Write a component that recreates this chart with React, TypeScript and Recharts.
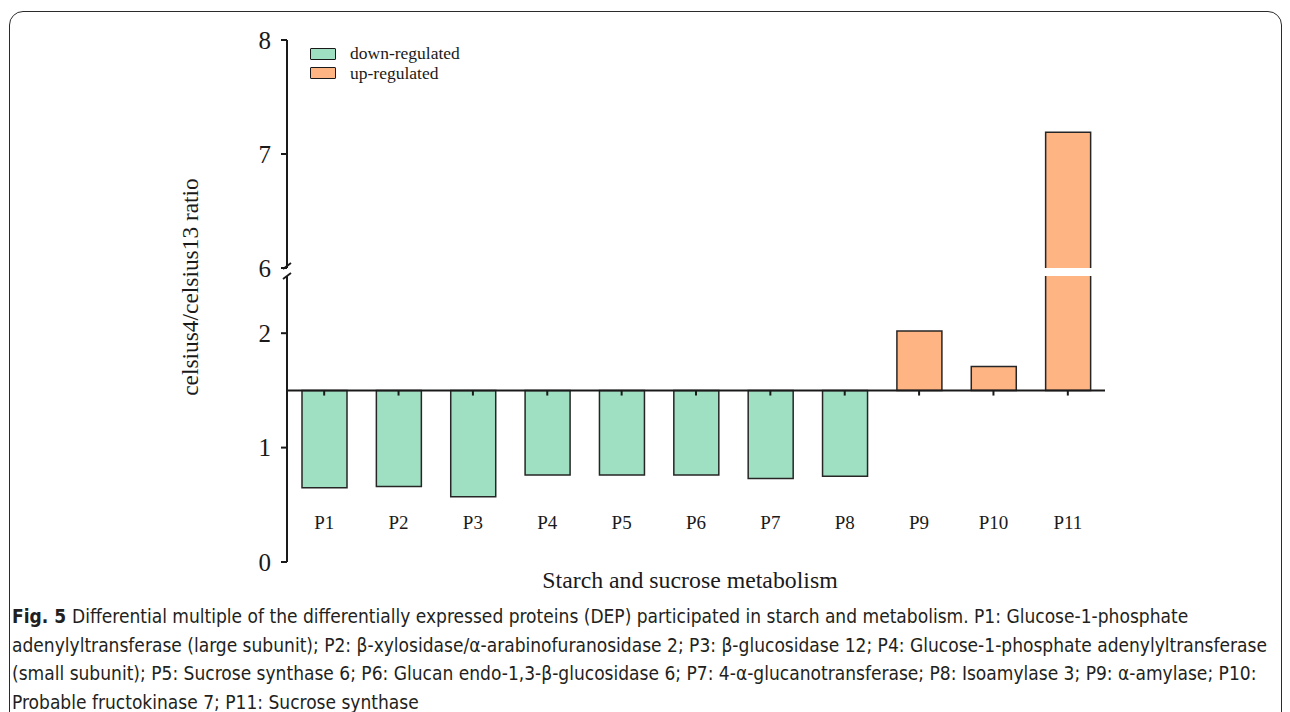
import React from "react";
import { BarChart, Bar, Cell, XAxis, YAxis, ReferenceLine, Legend } from "recharts";

// fold change per protein, read against a baseline of 1.5
const CATEGORIES = ["P1", "P2", "P3", "P4", "P5", "P6", "P7", "P8", "P9", "P10", "P11"];
const RATIOS = [0.65, 0.66, 0.57, 0.76, 0.76, 0.76, 0.73, 0.75, 2.02, 1.71, 7.19];
const BASELINE = 1.5;

const UPPER_DOMAIN = [6, 8];
const UPPER_TICKS = [6, 7, 8];
const LOWER_DOMAIN = [0, 2.5];
const LOWER_TICKS = [0, 1, 2];

const LEGEND_LABELS = ["down-regulated", "up-regulated"];
const DOWN_COLOR = "#a0e0c2";
const UP_COLOR = "#ffb583";
const INK = "#1a1a1a";
const SERIF = "'Liberation Serif', 'Times New Roman', serif";

const rows = CATEGORIES.map((name, i) => ({
  name,
  range: RATIOS[i] < BASELINE ? [RATIOS[i], BASELINE] : [BASELINE, RATIOS[i]],
}));

const fillFor = (v: number) => (v < BASELINE ? DOWN_COLOR : UP_COLOR);

const CAPTION = [
  "Differential multiple of the differentially expressed proteins (DEP) participated in starch and metabolism. P1: Glucose-1-phosphate",
  "adenylyltransferase (large subunit); P2: β-xylosidase/α-arabinofuranosidase 2; P3: β-glucosidase 12; P4: Glucose-1-phosphate adenylyltransferase",
  "(small subunit); P5: Sucrose synthase 6; P6: Glucan endo-1,3-β-glucosidase 6; P7: 4-α-glucanotransferase; P8: Isoamylase 3; P9: α-amylase; P10:",
  "Probable fructokinase 7; P11: Sucrose synthase",
];

const AXIS_W = 287;
const TICK_SIZE = 6;
const TICK_MARGIN = 10;

// tick label for the upper panel; the lowest tick also carries the axis break mark
function UpperTick(props: any) {
  const { x, y, payload } = props;
  const ax = x + TICK_SIZE + TICK_MARGIN;
  return (
    <g>
      <text x={x} y={y} dy="0.355em" textAnchor="end" fontFamily={SERIF} fontSize={25} fill={INK}>
        {payload.value}
      </text>
      {payload.value === UPPER_DOMAIN[0] && (
        <g stroke={INK} strokeWidth={1.8}>
          <line x1={ax - 4} y1={y + 1} x2={ax + 4} y2={y - 5} />
          <line x1={ax - 4} y1={y + 11} x2={ax + 4} y2={y + 5} />
        </g>
      )}
    </g>
  );
}

function CategoryTick(props: any) {
  const { x, y, payload } = props;
  return (
    <text x={x} y={y - 33} textAnchor="middle" fontFamily={SERIF} fontSize={19} fill={INK}>
      {payload.value}
    </text>
  );
}

function LegendBox() {
  const colors = [DOWN_COLOR, UP_COLOR];
  return (
    <div style={{ fontFamily: SERIF, fontSize: 17.5, color: INK }}>
      {LEGEND_LABELS.map((label, i) => (
        <div key={label} style={{ display: "flex", alignItems: "center", height: 19.5 }}>
          <span
            style={{
              display: "inline-block",
              width: 24,
              height: 10,
              background: colors[i],
              border: `1.5px solid ${INK}`,
              borderRadius: 1,
              marginRight: 14,
            }}
          />
          {label}
        </div>
      ))}
    </div>
  );
}

function bars() {
  return (
    <Bar dataKey="range" barSize={45} stroke="#262626" strokeWidth={1.5} isAnimationActive={false}>
      {RATIOS.map((v, i) => (
        <Cell key={CATEGORIES[i]} fill={fillFor(v)} />
      ))}
    </Bar>
  );
}

export default function App() {
  return (
    <div style={{ position: "absolute", left: 0, top: 0, width: 1290, height: 712, overflow: "hidden", background: "#fff" }}>
      <div
        style={{
          position: "absolute",
          left: 9,
          top: 11,
          width: 1273,
          height: 740,
          border: "1.5px solid #2b2b2b",
          borderRadius: 14,
          boxSizing: "border-box",
        }}
      />

      {/* lower panel: 0–2.5 */}
      <div style={{ position: "absolute", left: 0, top: 150 }}>
        <BarChart width={1130} height={446} data={rows} margin={{ top: 126, right: 25, bottom: 4, left: 0 }}>
          <XAxis
            dataKey="name"
            height={30}
            axisLine={false}
            tickLine={false}
            tickSize={0}
            tickMargin={0}
            tick={<CategoryTick />}
            interval={0}
            label={{
              value: "Starch and sucrose metabolism",
              position: "insideBottom",
              offset: 4,
              dx: -6,
              style: { fontFamily: SERIF, fontSize: 23.8, fill: INK },
            }}
          />
          <YAxis
            width={AXIS_W}
            domain={LOWER_DOMAIN}
            ticks={LOWER_TICKS}
            interval={0}
            allowDataOverflow
            axisLine={{ stroke: INK, strokeWidth: 2 }}
            tickLine={{ stroke: INK, strokeWidth: 2 }}
            tickSize={TICK_SIZE}
            tickMargin={TICK_MARGIN}
            tick={{ fontFamily: SERIF, fontSize: 25, fill: INK }}
            label={{
              value: "celsius4/celsius13 ratio",
              angle: -90,
              position: "center",
              dx: 46,
              dy: -132,
              style: { fontFamily: SERIF, fontSize: 23.4, fill: INK, textAnchor: "middle" },
            }}
          />
          {bars()}
          <ReferenceLine y={BASELINE} stroke={INK} strokeWidth={2} />
          {CATEGORIES.map((c) => (
            <ReferenceLine
              key={c}
              segment={[
                { x: c, y: BASELINE },
                { x: c, y: BASELINE - 0.045 },
              ]}
              stroke={INK}
              strokeWidth={2}
            />
          ))}
        </BarChart>
      </div>

      {/* upper panel: 6–8 */}
      <div style={{ position: "absolute", left: 0, top: 20 }}>
        <BarChart width={1130} height={282} data={rows} margin={{ top: 20, right: 25, bottom: 34, left: 0 }}>
          <XAxis dataKey="name" hide />
          <YAxis
            width={AXIS_W}
            domain={UPPER_DOMAIN}
            ticks={UPPER_TICKS}
            interval={0}
            allowDataOverflow
            axisLine={{ stroke: INK, strokeWidth: 2 }}
            tickLine={{ stroke: INK, strokeWidth: 2 }}
            tickSize={TICK_SIZE}
            tickMargin={TICK_MARGIN}
            tick={<UpperTick />}
          />
          <Legend
            layout="horizontal"
            verticalAlign="middle"
            align="center"
            content={<LegendBox />}
            wrapperStyle={{ left: 310, top: 24, width: 200 }}
          />
          {bars()}
        </BarChart>
      </div>

      <div
        style={{
          position: "absolute",
          left: 12,
          top: 602,
          fontFamily: "'Liberation Sans Narrow', 'DejaVu Sans Condensed', 'Liberation Sans', sans-serif",
          fontSize: 19,
          lineHeight: "28.5px",
          color: "#231f20",
          whiteSpace: "nowrap",
        }}
      >
        {CAPTION.map((line, i) => (
          <div key={i}>
            {i === 0 && <b>Fig. 5 </b>}
            {line}
          </div>
        ))}
      </div>
    </div>
  );
}
